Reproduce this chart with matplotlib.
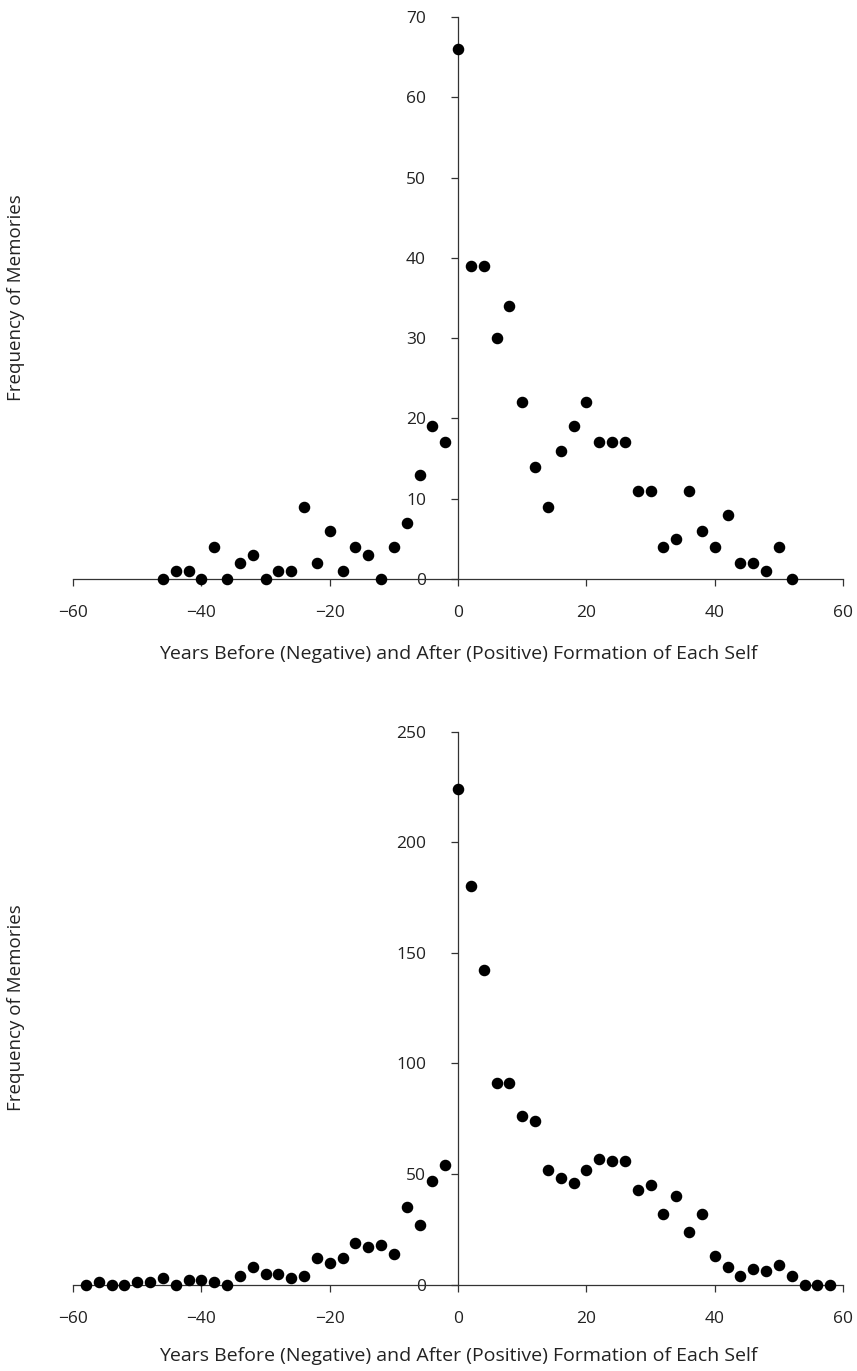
import numpy as np
import matplotlib.pyplot as plt

plt.rcParams['font.family'] = ['Open Sans', 'DejaVu Sans']

# Top panel: frequency of memories per 2-year bin
years_top = [-46, -44, -42, -40, -38, -36, -34, -32, -30, -28, -26, -24, -22,
             -20, -18, -16, -14, -12, -10, -8, -6, -4, -2,
             0, 2, 4, 6, 8, 10, 12, 14, 16, 18, 20, 22, 24, 26, 28, 30, 32,
             34, 36, 38, 40, 42, 44, 46, 48, 50, 52]
freq_top = [0, 1, 1, 0, 4, 0, 2, 3, 0, 1, 1, 9, 2,
            6, 1, 4, 3, 0, 4, 7, 13, 19, 17,
            66, 39, 39, 30, 34, 22, 14, 9, 16, 19, 22, 17, 17, 17, 11, 11, 4,
            5, 11, 6, 4, 8, 2, 2, 1, 4, 0]

# Bottom panel
years_bot = [-58, -56, -54, -52, -50, -48, -46, -44, -42, -40, -38, -36, -34,
             -32, -30, -28, -26, -24, -22, -20, -18, -16, -14, -12, -10, -8,
             -6, -4, -2,
             0, 2, 4, 6, 8, 10, 12, 14, 16, 18, 20, 22, 24, 26, 28, 30, 32,
             34, 36, 38, 40, 42, 44, 46, 48, 50, 52, 54, 56, 58]
freq_bot = [0, 1, 0, 0, 1, 1, 3, 0, 2, 2, 1, 0, 4,
            8, 5, 5, 3, 4, 12, 10, 12, 19, 17, 18, 14, 35,
            27, 47, 54,
            224, 180, 142, 91, 91, 76, 74, 52, 48, 46, 52, 57, 56, 56, 43, 45, 32,
            40, 24, 32, 13, 8, 4, 7, 6, 9, 4, 0, 0, 0]

xlabel = "Years Before (Negative) and After (Positive) Formation of Each Self"
ylabel = "Frequency of Memories"


def style_axes(ax, ymax, ystep, xlab_y):
    ax.spines['left'].set_position(('data', 0))
    ax.spines['bottom'].set_position(('data', 0))
    ax.spines['top'].set_visible(False)
    ax.spines['right'].set_visible(False)
    for s in ('left', 'bottom'):
        ax.spines[s].set_color('#333333')
        ax.spines[s].set_linewidth(0.9)
    ax.set_xlim(-60, 60)
    ax.set_ylim(0, ymax)
    ax.set_xticks(np.arange(-60, 61, 20))
    ax.set_yticks(np.arange(0, ymax + 1, ystep))
    ax.tick_params(axis='x', direction='out', length=5, width=0.9,
                   color='#333333', pad=14, labelsize=12.5, labelcolor='#222222')
    ax.tick_params(axis='y', direction='out', length=5, width=0.9,
                   color='#333333', pad=18, labelsize=12.5, labelcolor='#222222')
    ax.set_xlabel(xlabel, fontsize=14, color='#222222')
    ax.xaxis.set_label_coords(0.5, xlab_y)
    ax.set_ylabel(ylabel, fontsize=13.5, color='#222222')
    ax.yaxis.set_label_coords(-0.062, 0.5)


fig = plt.figure(figsize=(8.57, 13.71), dpi=100)

ax1 = fig.add_axes([0.0852, 0.5777, 0.8985, 0.4099])
ax1.plot(years_top, freq_top, 'o', color='black', ms=7.3, clip_on=False, zorder=3)
style_axes(ax1, 70, 10, -0.117)

ax2 = fig.add_axes([0.0852, 0.0630, 0.8985, 0.4034])
ax2.plot(years_bot, freq_bot, 'o', color='black', ms=7.3, clip_on=False, zorder=3)
style_axes(ax2, 250, 50, -0.113)

fig.savefig('out.png', dpi=100)
